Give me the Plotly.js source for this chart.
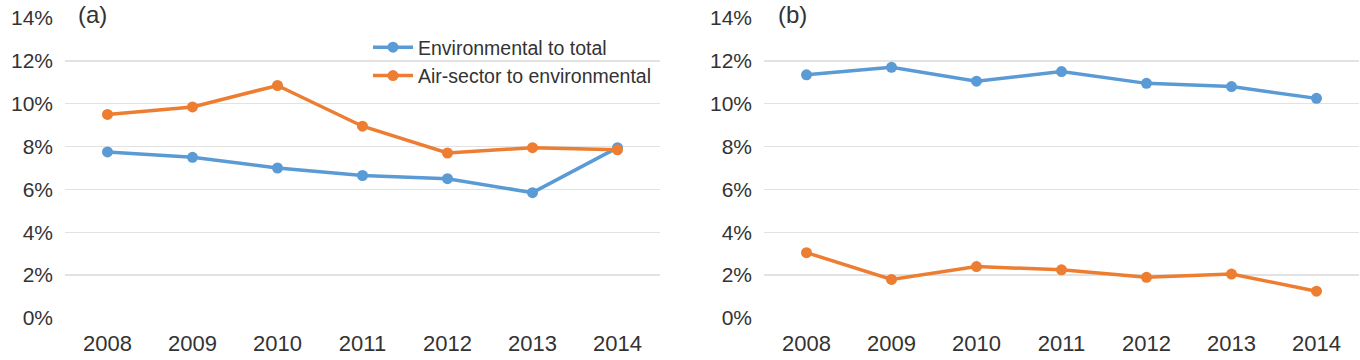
<!DOCTYPE html>
<html>
<head>
<meta charset="utf-8">
<script src="https://cdn.plot.ly/plotly-3.0.1.min.js"></script>
<style>html,body{margin:0;padding:0;background:#fff;}#chart{width:1360px;height:360px;}</style>
</head>
<body>
<div id="chart"></div>
<script>
const years = ["2008","2009","2010","2011","2012","2013","2014"];
const envToTotalA = [7.75, 7.5, 7.0, 6.65, 6.5, 5.85, 7.95];
const airToEnvA   = [9.5, 9.85, 10.85, 8.95, 7.7, 7.95, 7.85];
const envToTotalB = [11.35, 11.7, 11.05, 11.5, 10.95, 10.8, 10.25];
const airToEnvB   = [3.05, 1.8, 2.4, 2.25, 1.9, 2.05, 1.25];
const yTicks = [0, 2, 4, 6, 8, 10, 12, 14];
const yTickText = ["0%","2%","4%","6%","8%","10%","12%","14%"];
const seriesNames = ["Environmental to total", "Air-sector to environmental"];

const blue = "#5B9BD5", orange = "#ED7D31";
function tr(y, name, color, xa, ya, show) {
  return {x: years, y: y, name: name, type: "scatter", mode: "lines+markers",
    xaxis: xa, yaxis: ya, showlegend: show,
    line: {color: color, width: 3.5}, marker: {color: color, size: 11}};
}
const data = [
  tr(envToTotalA, seriesNames[0], blue, "x", "y", true),
  tr(airToEnvA, seriesNames[1], orange, "x", "y", true),
  tr(envToTotalB, seriesNames[0], blue, "x2", "y2", false),
  tr(airToEnvB, seriesNames[1], orange, "x2", "y2", false)
];
const fam = "Liberation Sans, Arial, sans-serif";
const xfont = {family: fam, size: 22, color: "#333"};
const yfont = {family: fam, size: 21, color: "#333"};
const xax = {type: "category", range: [-0.5, 6.5], showgrid: false, zeroline: false, showline: false,
  ticks: "", tickfont: xfont, ticklabelstandoff: 10};
const yax = {range: [0, 14], tickvals: yTicks, ticktext: yTickText, showgrid: true, gridcolor: "#e2e2e2",
  gridwidth: 1.5, zeroline: false, showline: false, ticks: "", tickfont: yfont, ticklabelstandoff: 11};
const W = 1360;
const layout = {
  width: 1360, height: 360,
  margin: {l: 0, r: 0, t: 18, b: 42},
  paper_bgcolor: "#fff", plot_bgcolor: "#fff",
  font: yfont,
  showlegend: true,
  xaxis: Object.assign({}, xax, {domain: [65/W, 660/W], anchor: "y"}),
  yaxis: Object.assign({}, yax, {anchor: "x"}),
  xaxis2: Object.assign({}, xax, {domain: [764/W, 1359/W], anchor: "y2"}),
  yaxis2: Object.assign({}, yax, {anchor: "x2"}),
  legend: {x: 368/W, xanchor: "left", y: 1 - (28-18)/300, yanchor: "top", bgcolor: "rgba(0,0,0,0)",
    font: {family: fam, size: 19.5, color: "#333"}, tracegroupgap: 0, itemwidth: 40},
  annotations: [
    {text: "(a)", xref: "paper", yref: "paper", x: 76/W, y: 1.065, xanchor: "left", yanchor: "top", showarrow: false,
     font: {family: fam, size: 24, color: "#333"}},
    {text: "(b)", xref: "paper", yref: "paper", x: 776/W, y: 1.065, xanchor: "left", yanchor: "top", showarrow: false,
     font: {family: fam, size: 24, color: "#333"}}
  ]
};
Plotly.newPlot("chart", data, layout, {displayModeBar: false, staticPlot: true});
</script>
</body>
</html>
